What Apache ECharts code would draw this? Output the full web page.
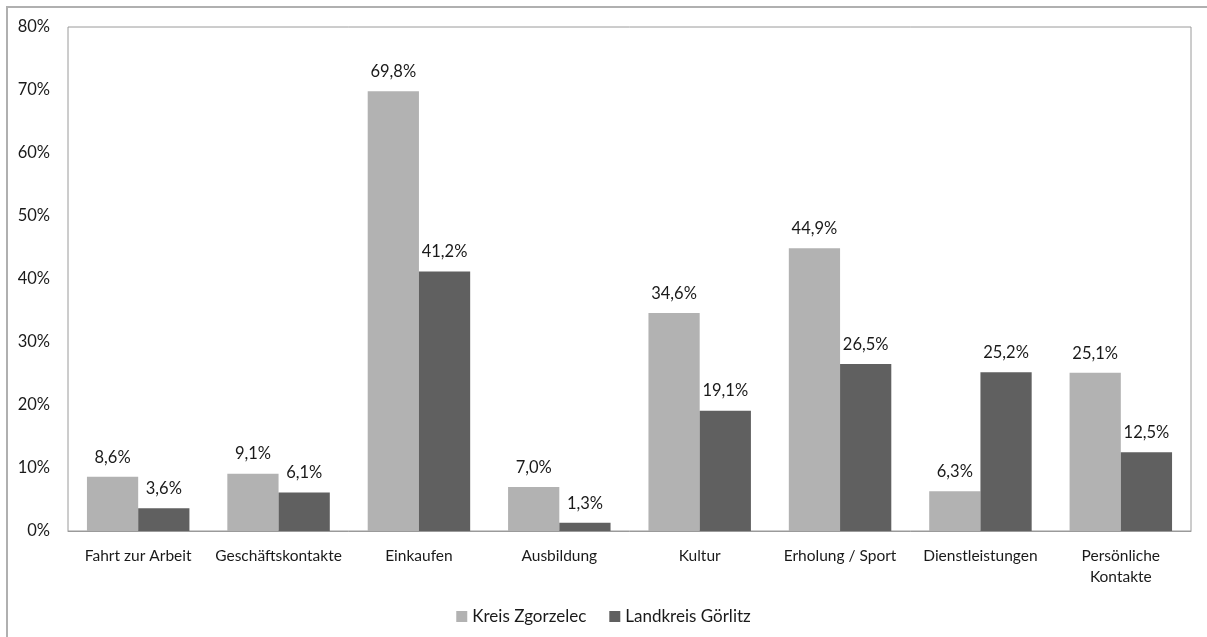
<!DOCTYPE html>
<html><head><meta charset="utf-8">
<script src="https://cdn.jsdelivr.net/npm/echarts@6/dist/echarts.min.js"></script>
<style>html,body{margin:0;padding:0;background:#fff}#c{width:1207px;height:637px}</style>
</head><body><div id="c"></div>
<script>
const categories = ['Fahrt zur Arbeit','Geschäftskontakte','Einkaufen','Ausbildung','Kultur','Erholung / Sport','Dienstleistungen','Persönliche\nKontakte'];
const seriesNames = ['Kreis Zgorzelec','Landkreis Görlitz'];
const zgorzelec = [8.6, 9.1, 69.8, 7.0, 34.6, 44.9, 6.3, 25.1];
const goerlitz = [3.6, 6.1, 41.2, 1.3, 19.1, 26.5, 25.2, 12.5];
const colors = ['#b2b2b2','#606060'];
const font = 'Lato, "Open Sans", sans-serif';
const fmt = v => v.toFixed(1).replace('.', ',') + '%';
const chart = echarts.init(document.getElementById('c'));
const mk = (name, data, color) => ({
  name, type: 'bar', data, barGap: '0%', barCategoryGap: '27%',
  itemStyle: { color },
  label: { show: true, position: 'top', distance: 11, color: '#1a1a1a', fontFamily: font, fontSize: 16.5,
    formatter: p => fmt(p.value) }
});
chart.setOption({
  animation: false,
  graphic: [{ type: 'rect', shape: { x: 7, y: 7, width: 1210, height: 640 }, style: { fill: 'none', stroke: '#b0b0b0', lineWidth: 2 }, silent: true }],
  grid: { left: 68, right: 16, top: 27, bottom: 106, show: true, borderColor: '#9a9a9a', borderWidth: 1 },
  legend: { bottom: 7, left: 'center', itemWidth: 11, itemHeight: 11, itemGap: 23, icon: 'rect',
    textStyle: { fontFamily: font, fontSize: 17, color: '#1a1a1a' }, data: seriesNames },
  xAxis: { type: 'category', data: categories,
    axisLine: { show: true, lineStyle: { color: '#9a9a9a' } }, axisTick: { show: false },
    axisLabel: { color: '#1a1a1a', fontFamily: font, fontSize: 15.5, margin: 14, lineHeight: 21, interval: 0 } },
  yAxis: { type: 'value', min: 0, max: 80, interval: 10,
    splitLine: { show: false }, axisLine: { show: false }, axisTick: { show: false },
    axisLabel: { color: '#1a1a1a', fontFamily: font, fontSize: 16.5, margin: 18, formatter: v => v + '%' } },
  series: [mk(seriesNames[0], zgorzelec, colors[0]), mk(seriesNames[1], goerlitz, colors[1])]
});
</script></body></html>
